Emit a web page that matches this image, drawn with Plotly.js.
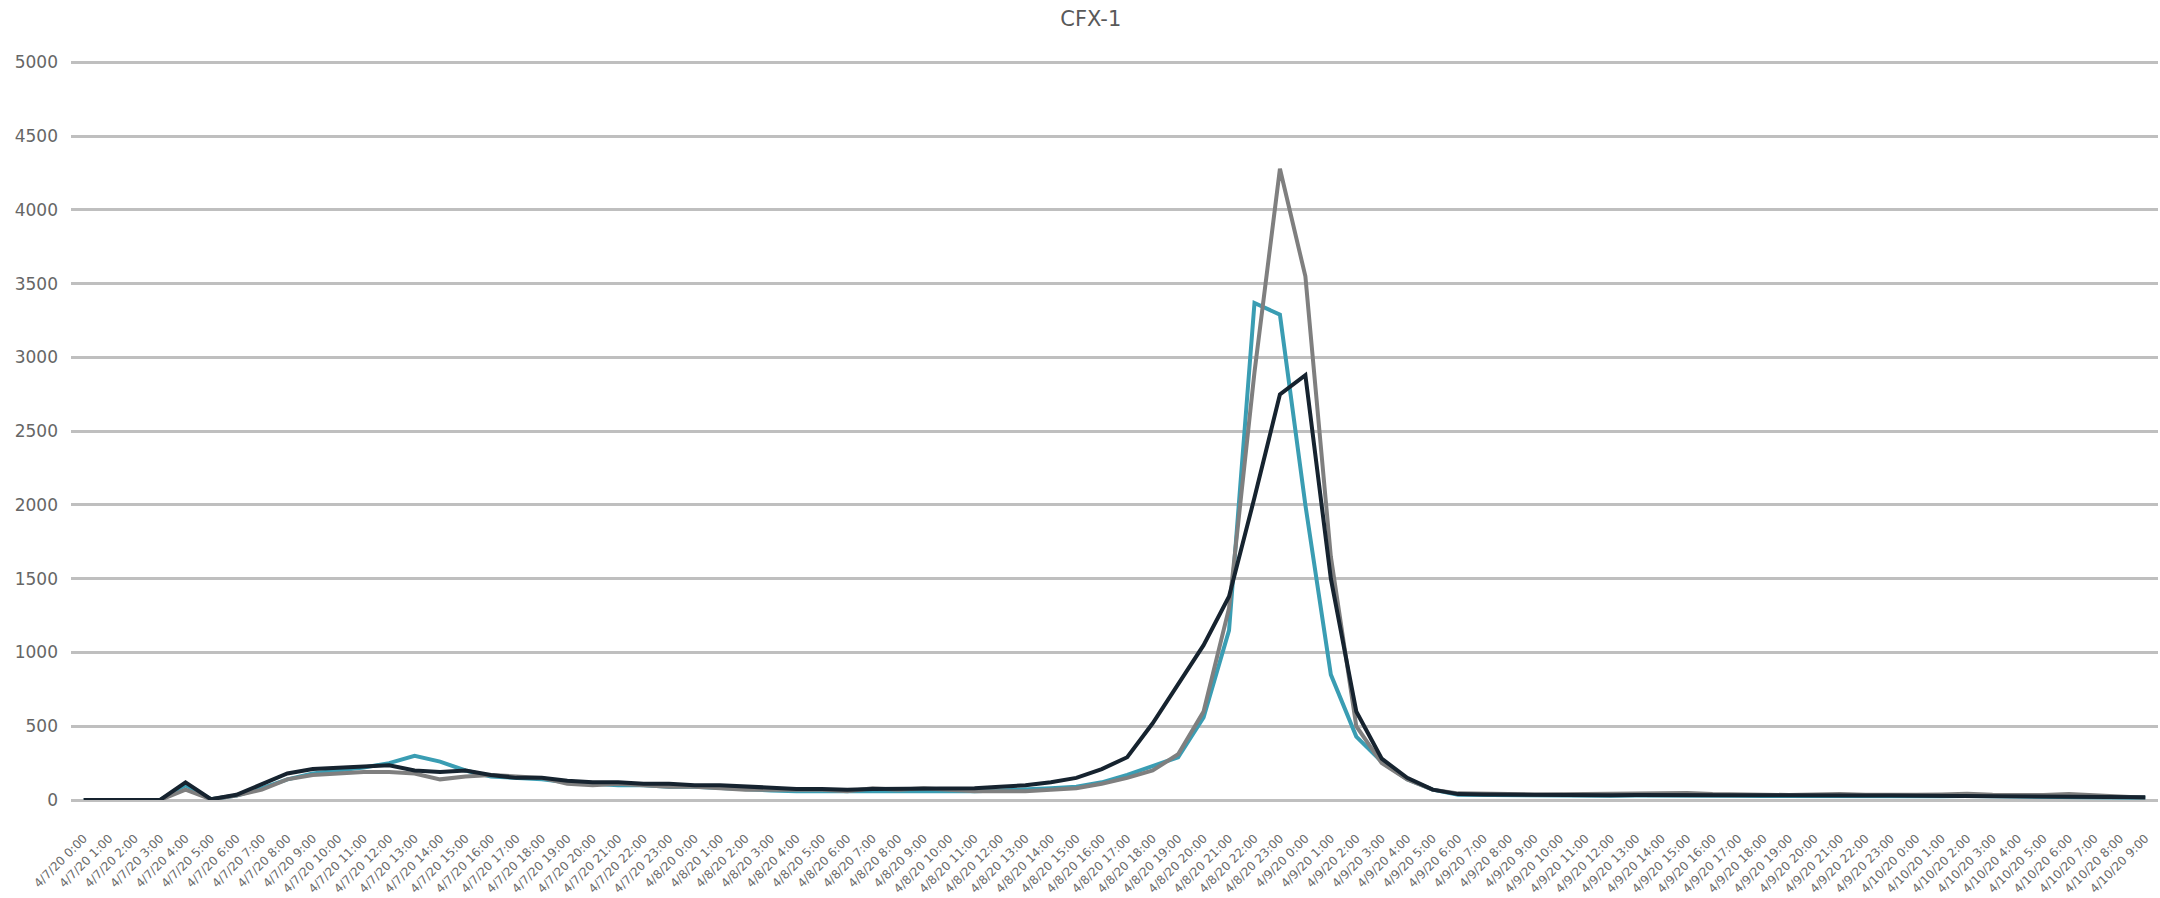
<!DOCTYPE html>
<html>
<head>
<meta charset="utf-8">
<script src="https://cdn.plot.ly/plotly-3.0.1.min.js"></script>
<style>html,body{margin:0;padding:0;background:#fff;}#chart{width:2160px;height:898px;}</style>
</head>
<body>
<div id="chart"></div>
<script>
var categories = [
"4/7/20 0:00","4/7/20 1:00","4/7/20 2:00","4/7/20 3:00","4/7/20 4:00","4/7/20 5:00","4/7/20 6:00","4/7/20 7:00","4/7/20 8:00","4/7/20 9:00",
"4/7/20 10:00","4/7/20 11:00","4/7/20 12:00","4/7/20 13:00","4/7/20 14:00","4/7/20 15:00","4/7/20 16:00","4/7/20 17:00","4/7/20 18:00","4/7/20 19:00",
"4/7/20 20:00","4/7/20 21:00","4/7/20 22:00","4/7/20 23:00","4/8/20 0:00","4/8/20 1:00","4/8/20 2:00","4/8/20 3:00","4/8/20 4:00","4/8/20 5:00",
"4/8/20 6:00","4/8/20 7:00","4/8/20 8:00","4/8/20 9:00","4/8/20 10:00","4/8/20 11:00","4/8/20 12:00","4/8/20 13:00","4/8/20 14:00","4/8/20 15:00",
"4/8/20 16:00","4/8/20 17:00","4/8/20 18:00","4/8/20 19:00","4/8/20 20:00","4/8/20 21:00","4/8/20 22:00","4/8/20 23:00","4/9/20 0:00","4/9/20 1:00",
"4/9/20 2:00","4/9/20 3:00","4/9/20 4:00","4/9/20 5:00","4/9/20 6:00","4/9/20 7:00","4/9/20 8:00","4/9/20 9:00","4/9/20 10:00","4/9/20 11:00",
"4/9/20 12:00","4/9/20 13:00","4/9/20 14:00","4/9/20 15:00","4/9/20 16:00","4/9/20 17:00","4/9/20 18:00","4/9/20 19:00","4/9/20 20:00","4/9/20 21:00",
"4/9/20 22:00","4/9/20 23:00","4/10/20 0:00","4/10/20 1:00","4/10/20 2:00","4/10/20 3:00","4/10/20 4:00","4/10/20 5:00","4/10/20 6:00","4/10/20 7:00",
"4/10/20 8:00","4/10/20 9:00"
];

var tealValues = [
0,0,0,0,100,5,30,80,140,180,
200,220,250,300,260,200,160,150,140,120,
110,100,100,90,90,80,70,65,60,60,
55,55,55,60,60,60,65,70,80,90,
120,170,230,290,560,1150,3370,3290,2000,850,
430,260,140,70,35,33,32,30,30,30,
29,30,31,32,30,28,27,26,26,27,
26,25,25,26,27,26,25,24,23,22,
20,15
];

var grayValues = [
0,0,0,0,70,5,30,70,140,170,
180,190,190,180,140,160,170,160,150,110,
100,110,100,90,90,80,70,70,70,70,
60,80,70,80,70,60,60,60,70,80,
110,150,200,310,600,1300,2900,4280,3550,1650,
500,250,140,70,45,40,40,38,40,42,
38,40,45,48,40,35,36,34,38,40,
35,33,35,38,42,36,32,34,40,30,
22,15
];

var blackValues = [
0,0,0,0,120,5,35,110,180,210,
220,230,235,200,190,200,170,150,150,130,
120,120,110,110,100,100,90,80,75,75,
70,75,75,80,80,80,90,100,120,150,
210,290,520,780,1050,1380,2050,2750,2880,1500,
600,280,150,70,40,38,36,35,35,34,
33,34,35,36,35,33,32,30,30,31,
30,30,29,30,31,30,29,28,27,25,
22,18
];

var yTicks = [0,500,1000,1500,2000,2500,3000,3500,4000,4500,5000];

var font = "DejaVu Sans, Verdana, sans-serif";
var traces = [
  {x: categories, y: tealValues, type: "scatter", mode: "lines", name: "Series1",
   line: {color: "#3a9db3", width: 4}},
  {x: categories, y: grayValues, type: "scatter", mode: "lines", name: "Series2",
   line: {color: "#7f7f7f", width: 4}},
  {x: categories, y: blackValues, type: "scatter", mode: "lines", name: "Series3",
   line: {color: "#16232f", width: 4}}
];

var layout = {
  width: 2160, height: 898,
  paper_bgcolor: "#ffffff", plot_bgcolor: "#ffffff",
  showlegend: false,
  margin: {l: 71, r: 2, t: 61, b: 98},
  title: {text: "CFX-1", x: 0.505, xref: "container", xanchor: "center", y: 0.979, yanchor: "middle",
          font: {family: font, size: 21, color: "#595959"}},
  xaxis: {
    type: "category",
    range: [-0.5, categories.length - 0.5],
    tickangle: -45,
    tickfont: {family: font, size: 12, color: "#6a6a6a"},
    showgrid: false, zeroline: false, showline: false,
    ticks: "", ticklabelstandoff: 28,
    fixedrange: true
  },
  yaxis: {
    range: [0, 5010],
    tickvals: yTicks,
    tickfont: {family: font, size: 17, color: "#666666"},
    showgrid: true, gridcolor: "#bfbfbf", gridwidth: 3,
    zeroline: true, zerolinecolor: "#bfbfbf", zerolinewidth: 3,
    showline: false, ticks: "", ticklabelstandoff: 12,
    fixedrange: true
  }
};

Plotly.newPlot("chart", traces, layout, {displayModeBar: false, staticPlot: true});
</script>
</body>
</html>
